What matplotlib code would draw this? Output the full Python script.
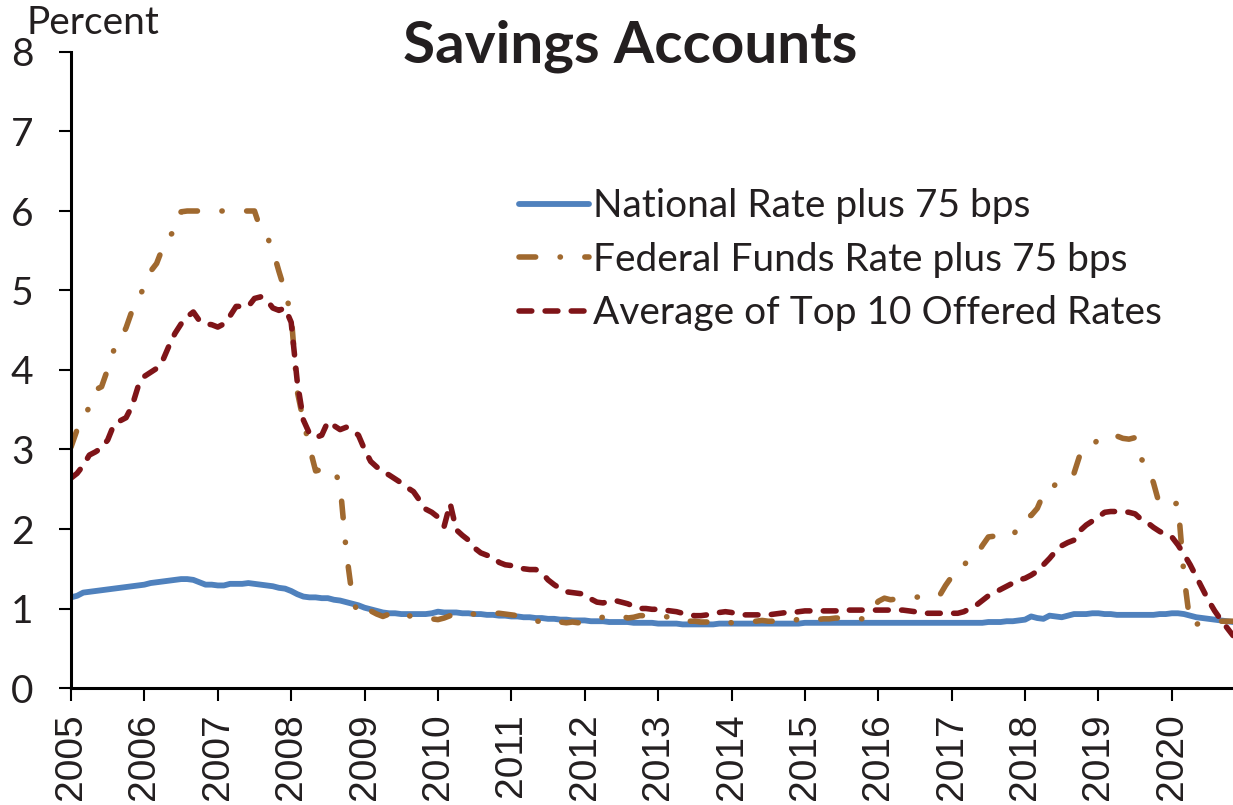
import numpy as np
import matplotlib
matplotlib.use("Agg")
import matplotlib.pyplot as plt

# Monthly values, Jan 2005 - Nov 2020 (percent)
start_year = 2005
national_plus_75 = [
    1.14, 1.16, 1.20, 1.21, 1.22, 1.23, 1.24, 1.25, 1.26, 1.27, 1.28, 1.29,  # 2005
    1.30, 1.32, 1.33, 1.34, 1.35, 1.36, 1.37, 1.37, 1.36, 1.33, 1.30, 1.30,  # 2006
    1.29, 1.29, 1.31, 1.31, 1.31, 1.32, 1.31, 1.30, 1.29, 1.28, 1.26, 1.25,  # 2007
    1.22, 1.18, 1.15, 1.14, 1.14, 1.13, 1.13, 1.11, 1.10, 1.08, 1.06, 1.04,  # 2008
    1.01, 0.99, 0.97, 0.95, 0.94, 0.94, 0.93, 0.93, 0.93, 0.93, 0.93, 0.94,  # 2009
    0.96, 0.95, 0.95, 0.95, 0.94, 0.94, 0.93, 0.93, 0.92, 0.92, 0.91, 0.91,  # 2010
    0.90, 0.90, 0.89, 0.89, 0.88, 0.88, 0.87, 0.87, 0.86, 0.86, 0.85, 0.85,  # 2011
    0.85, 0.84, 0.84, 0.84, 0.83, 0.83, 0.83, 0.83, 0.82, 0.82, 0.82, 0.82,  # 2012
    0.81, 0.81, 0.81, 0.81, 0.80, 0.80, 0.80, 0.80, 0.80, 0.80, 0.81, 0.81,  # 2013
    0.81, 0.81, 0.81, 0.81, 0.81, 0.81, 0.81, 0.81, 0.81, 0.81, 0.81, 0.81,  # 2014
    0.82, 0.82, 0.82, 0.82, 0.82, 0.82, 0.82, 0.82, 0.82, 0.82, 0.82, 0.82,  # 2015
    0.82, 0.82, 0.82, 0.82, 0.82, 0.82, 0.82, 0.82, 0.82, 0.82, 0.82, 0.82,  # 2016
    0.82, 0.82, 0.82, 0.82, 0.82, 0.82, 0.83, 0.83, 0.83, 0.84, 0.84, 0.85,  # 2017
    0.86, 0.90, 0.88, 0.87, 0.91, 0.90, 0.89, 0.91, 0.93, 0.93, 0.93, 0.94,  # 2018
    0.94, 0.93, 0.93, 0.92, 0.92, 0.92, 0.92, 0.92, 0.92, 0.92, 0.93, 0.93,  # 2019
    0.94, 0.94, 0.93, 0.91, 0.89, 0.88, 0.87, 0.86, 0.85, 0.84, 0.83,        # 2020
]
fed_funds_plus_75 = [
    3.03, 3.25, 3.38, 3.54, 3.75, 3.79, 4.01, 4.25, 4.37, 4.53, 4.75, 4.91,  # 2005
    5.04, 5.24, 5.34, 5.54, 5.69, 5.74, 5.99, 6.00, 6.00, 6.00, 6.00, 6.00,  # 2006
    6.00, 6.00, 6.00, 6.00, 6.00, 6.00, 6.00, 5.77, 5.69, 5.51, 5.24, 4.99,  # 2007
    4.69, 3.73, 3.36, 3.03, 2.73, 2.75, 2.76, 2.75, 2.56, 1.72, 1.14, 0.91,  # 2008
    0.90, 0.97, 0.93, 0.90, 0.93, 0.96, 0.91, 0.91, 0.90, 0.87, 0.87, 0.87,  # 2009
    0.86, 0.88, 0.91, 0.95, 0.95, 0.93, 0.93, 0.94, 0.94, 0.94, 0.94, 0.93,  # 2010
    0.92, 0.91, 0.89, 0.85, 0.84, 0.84, 0.82, 0.85, 0.83, 0.82, 0.83, 0.82,  # 2011
    0.83, 0.85, 0.88, 0.89, 0.91, 0.91, 0.91, 0.88, 0.89, 0.91, 0.91, 0.91,  # 2012
    0.89, 0.90, 0.89, 0.90, 0.86, 0.84, 0.84, 0.83, 0.83, 0.84, 0.83, 0.84,  # 2013
    0.82, 0.82, 0.83, 0.84, 0.84, 0.85, 0.84, 0.84, 0.84, 0.84, 0.84, 0.87,  # 2014
    0.86, 0.86, 0.86, 0.87, 0.87, 0.88, 0.88, 0.89, 0.89, 0.87, 0.87, 0.99,  # 2015
    1.09, 1.13, 1.11, 1.12, 1.12, 1.13, 1.14, 1.15, 1.15, 1.15, 1.16, 1.29,  # 2016
    1.40, 1.41, 1.54, 1.65, 1.66, 1.79, 1.90, 1.91, 1.90, 1.90, 1.91, 2.05,  # 2017
    2.16, 2.17, 2.26, 2.44, 2.45, 2.57, 2.66, 2.66, 2.70, 2.94, 2.95, 3.02,  # 2018
    3.15, 3.15, 3.16, 3.17, 3.14, 3.13, 3.15, 2.88, 2.79, 2.58, 2.30, 2.30,  # 2019
    2.30, 2.33, 1.40, 0.80, 0.80, 0.83, 0.84, 0.85, 0.84, 0.84, 0.84,        # 2020
]
top10_average = [
    2.64, 2.70, 2.80, 2.93, 2.97, 3.02, 3.12, 3.31, 3.36, 3.40, 3.55, 3.80,  # 2005
    3.92, 3.97, 4.02, 4.12, 4.30, 4.46, 4.58, 4.67, 4.73, 4.62, 4.58, 4.57,  # 2006
    4.54, 4.58, 4.68, 4.80, 4.80, 4.80, 4.90, 4.92, 4.88, 4.78, 4.75, 4.78,  # 2007
    4.60, 3.85, 3.37, 3.20, 3.15, 3.18, 3.35, 3.30, 3.25, 3.28, 3.24, 3.18,  # 2008
    3.00, 2.85, 2.78, 2.72, 2.68, 2.63, 2.58, 2.52, 2.47, 2.36, 2.25, 2.21,  # 2009
    2.15, 2.03, 2.32, 1.99, 1.92, 1.86, 1.76, 1.70, 1.67, 1.65, 1.58, 1.55,  # 2010
    1.54, 1.52, 1.50, 1.49, 1.49, 1.45, 1.36, 1.30, 1.25, 1.21, 1.20, 1.19,  # 2011
    1.18, 1.12, 1.08, 1.07, 1.09, 1.10, 1.08, 1.06, 1.03, 1.00, 1.00, 0.99,  # 2012
    0.99, 0.98, 0.97, 0.96, 0.94, 0.92, 0.91, 0.91, 0.92, 0.93, 0.95, 0.96,  # 2013
    0.95, 0.93, 0.92, 0.92, 0.92, 0.92, 0.92, 0.93, 0.94, 0.95, 0.95, 0.96,  # 2014
    0.97, 0.97, 0.97, 0.97, 0.97, 0.97, 0.97, 0.98, 0.98, 0.98, 0.98, 0.98,  # 2015
    0.98, 0.98, 0.98, 0.98, 0.98, 0.97, 0.96, 0.95, 0.94, 0.94, 0.94, 0.94,  # 2016
    0.94, 0.94, 0.96, 1.00, 1.04, 1.10, 1.16, 1.20, 1.24, 1.28, 1.32, 1.36,  # 2017
    1.38, 1.42, 1.47, 1.55, 1.63, 1.72, 1.79, 1.83, 1.86, 1.98, 2.05, 2.10,  # 2018
    2.15, 2.21, 2.22, 2.22, 2.22, 2.21, 2.19, 2.12, 2.08, 2.02, 1.97, 1.93,  # 2019
    1.90, 1.80, 1.68, 1.55, 1.40, 1.25, 1.10, 0.97, 0.86, 0.76, 0.66,        # 2020
]

series_labels = ["National Rate plus 75 bps",
                 "Federal Funds Rate plus 75 bps",
                 "Average of Top 10 Offered Rates"]
year_ticks = list(range(2005, 2021))

TXT = "#231f20"
plt.rcParams["font.family"] = ["Lato", "DejaVu Sans"]

months = start_year + np.arange(len(national_plus_75)) / 12.0

fig = plt.figure(figsize=(12.33, 8.05), dpi=100)
ax = fig.add_axes([71 / 1233, 117 / 805, 1 - 71 / 1233, 636 / 805])

ax.plot(months, national_plus_75, color="#4f81bd", lw=4.2,
        solid_capstyle="round", label=series_labels[0])
ax.plot(months, fed_funds_plus_75, color="#a0692f", lw=4.0,
        dashes=[3.0, 4.4, 0.05, 4.4], dash_capstyle="round",
        label=series_labels[1])
ax.plot(months, top10_average, color="#7f1418", lw=4.0,
        dashes=[2.3, 2.4], dash_capstyle="round", label=series_labels[2])

ax.set_xlim(start_year, months[-1])
ax.set_ylim(0, 8)
ax.set_yticks(range(0, 9))
ax.set_xticks(year_ticks)
ax.set_xticklabels([str(y) for y in year_ticks], rotation=90,
                   family="Liberation Sans", fontsize=28, color=TXT)
ax.tick_params(axis="y", labelsize=28, labelcolor=TXT, length=9,
               width=1.5, pad=18, direction="out")
ax.tick_params(axis="x", length=9, width=1.5, pad=9, direction="out")

for s in ["top", "right"]:
    ax.spines[s].set_visible(False)
for s in ["left", "bottom"]:
    ax.spines[s].set_linewidth(2.2)

leg = ax.legend(loc="upper left", bbox_to_anchor=(0.372, 0.81),
                frameon=False, fontsize=28, handlelength=1.8,
                handletextpad=0.1, labelspacing=0.45, borderaxespad=0)
for t in leg.get_texts():
    t.set_color(TXT)

fig.text(630 / 1233, 1 - 46 / 805, "Savings Accounts", ha="center",
         va="center", fontsize=42, fontweight="bold", color=TXT)
fig.text(27 / 1233, 1 - 23 / 805, "Percent", ha="left", va="center",
         fontsize=28, color=TXT)

fig.savefig("out.png", dpi=100)
